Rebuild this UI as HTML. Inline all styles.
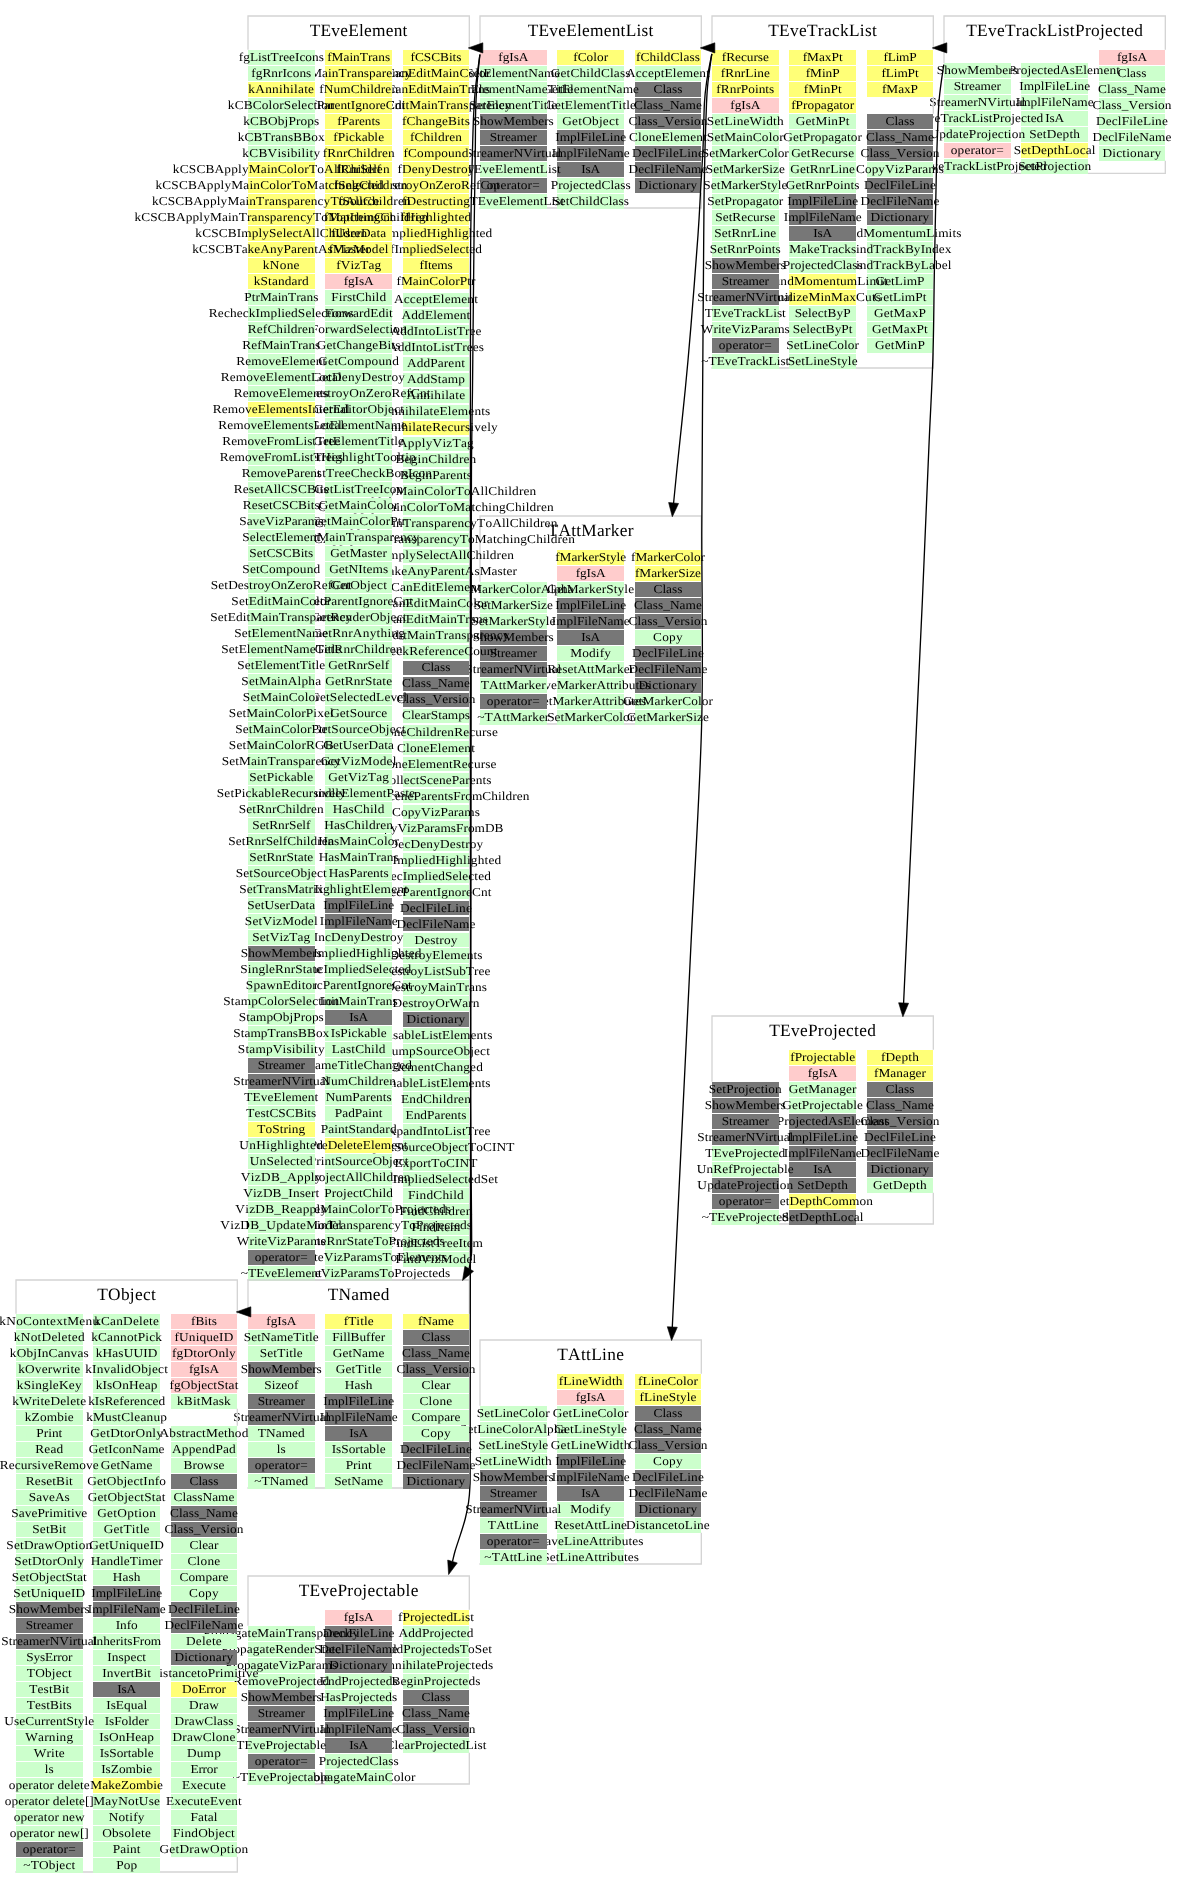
<!DOCTYPE html>
<html><head><meta charset="utf-8"><title>TEveTrackListProjected inheritance</title>
<style>
html,body{margin:0;padding:0;background:#fff}
#c{position:relative;width:1181px;height:1888px;overflow:hidden;will-change:transform;font-family:"Liberation Serif",serif;font-size:13.3333px;color:#000;font-kerning:none;font-variant-ligatures:none;text-rendering:geometricPrecision}
#c div,#c svg{position:absolute}
.b{width:66.67px;height:14.67px;line-height:14.67px;display:flex;justify-content:center;white-space:nowrap;overflow:visible}
.b span{display:block;transform-origin:50% 0;transform:translateY(1.2px) scaleY(0.91)}
.g{background:#ccffcc}.y{background:#ffff77}.p{background:#ffcccc}.k{background:#777777}
.t{width:221.33px;height:20px;line-height:20px;font-size:17.3333px;display:flex;justify-content:center;white-space:nowrap}
</style></head><body><div id="c">
<svg style="left:942px;top:14px" width="225.33" height="161.33"><path d="M2,2H223.33M2,159.33H223.33M2,2V48.53M223.33,2V35.2M223.33,147.47V159.33" fill="none" stroke="#d4d4d4" stroke-width="1.333" stroke-linecap="square"/></svg>
<div class="t" style="left:944px;top:20.8px;letter-spacing:0.301px">TEveTrackListProjected</div>
<div class="b p" style="left:1098.67px;top:50px;letter-spacing:-0.073px"><span>fgIsA</span></div>
<div class="b g" style="left:1098.67px;top:66px;letter-spacing:0.021px"><span>Class</span></div>
<div class="b g" style="left:1098.67px;top:82px;letter-spacing:0.060px"><span>Class_Name</span></div>
<div class="b g" style="left:1098.67px;top:98px;letter-spacing:0.094px"><span>Class_Version</span></div>
<div class="b g" style="left:1098.67px;top:114px;letter-spacing:0.138px"><span>DeclFileLine</span></div>
<div class="b g" style="left:1098.67px;top:130px;letter-spacing:0.104px"><span>DeclFileName</span></div>
<div class="b g" style="left:1098.67px;top:146px;letter-spacing:0.198px"><span>Dictionary</span></div>
<div class="b g" style="left:1021.33px;top:63.33px;letter-spacing:0.103px"><span>GetProjectedAsElement</span></div>
<div class="b g" style="left:1021.33px;top:79.33px;letter-spacing:0.054px"><span>ImplFileLine</span></div>
<div class="b g" style="left:1021.33px;top:95.33px;letter-spacing:0.020px"><span>ImplFileName</span></div>
<div class="b g" style="left:1021.33px;top:111.33px;letter-spacing:-0.086px"><span>IsA</span></div>
<div class="b g" style="left:1021.33px;top:127.33px;letter-spacing:0.172px"><span>SetDepth</span></div>
<div class="b y" style="left:1021.33px;top:143.33px;letter-spacing:0.156px"><span>SetDepthLocal</span></div>
<div class="b g" style="left:1021.33px;top:159.33px;letter-spacing:0.089px"><span>SetProjection</span></div>
<div class="b g" style="left:944px;top:63.33px;letter-spacing:0.024px"><span>ShowMembers</span></div>
<div class="b g" style="left:944px;top:79.33px;letter-spacing:-0.141px"><span>Streamer</span></div>
<div class="b g" style="left:944px;top:95.33px;letter-spacing:0.030px"><span>StreamerNVirtual</span></div>
<div class="b g" style="left:944px;top:111.33px;letter-spacing:0.043px"><span>TEveTrackListProjected</span></div>
<div class="b g" style="left:944px;top:127.33px;letter-spacing:0.168px"><span>UpdateProjection</span></div>
<div class="b p" style="left:944px;top:143.33px;letter-spacing:0.118px"><span>operator=</span></div>
<div class="b g" style="left:944px;top:159.33px;letter-spacing:0.032px"><span>~TEveTrackListProjected</span></div>
<svg style="left:710px;top:14px" width="225.33" height="356"><path d="M2,2H223.33M2,354H223.33M2,2V35.2M223.33,2V35.2M223.33,83.47V99.2M223.33,339.47V354" fill="none" stroke="#d4d4d4" stroke-width="1.333" stroke-linecap="square"/></svg>
<div class="t" style="left:712px;top:20.8px;letter-spacing:0.314px">TEveTrackList</div>
<div class="b y" style="left:866.67px;top:50px;letter-spacing:-0.215px"><span>fLimP</span></div>
<div class="b y" style="left:866.67px;top:66px;letter-spacing:-0.130px"><span>fLimPt</span></div>
<div class="b y" style="left:866.67px;top:82px;letter-spacing:-0.059px"><span>fMaxP</span></div>
<div class="b k" style="left:866.67px;top:114px;letter-spacing:0.021px"><span>Class</span></div>
<div class="b k" style="left:866.67px;top:130px;letter-spacing:0.060px"><span>Class_Name</span></div>
<div class="b k" style="left:866.67px;top:146px;letter-spacing:0.094px"><span>Class_Version</span></div>
<div class="b g" style="left:866.67px;top:162px;letter-spacing:0.046px"><span>CopyVizParams</span></div>
<div class="b k" style="left:866.67px;top:178px;letter-spacing:0.138px"><span>DeclFileLine</span></div>
<div class="b k" style="left:866.67px;top:194px;letter-spacing:0.104px"><span>DeclFileName</span></div>
<div class="b k" style="left:866.67px;top:210px;letter-spacing:0.198px"><span>Dictionary</span></div>
<div class="b g" style="left:866.67px;top:226px;letter-spacing:0.084px"><span>FindMomentumLimits</span></div>
<div class="b g" style="left:866.67px;top:242px;letter-spacing:0.096px"><span>FindTrackByIndex</span></div>
<div class="b g" style="left:866.67px;top:258px;letter-spacing:0.097px"><span>FindTrackByLabel</span></div>
<div class="b g" style="left:866.67px;top:274px;letter-spacing:0.016px"><span>GetLimP</span></div>
<div class="b g" style="left:866.67px;top:290px;letter-spacing:0.051px"><span>GetLimPt</span></div>
<div class="b g" style="left:866.67px;top:306px;letter-spacing:0.128px"><span>GetMaxP</span></div>
<div class="b g" style="left:866.67px;top:322px;letter-spacing:0.149px"><span>GetMaxPt</span></div>
<div class="b g" style="left:866.67px;top:338px;letter-spacing:0.158px"><span>GetMinP</span></div>
<div class="b y" style="left:789.33px;top:50px;letter-spacing:0.000px"><span>fMaxPt</span></div>
<div class="b y" style="left:789.33px;top:66px;letter-spacing:-0.016px"><span>fMinP</span></div>
<div class="b y" style="left:789.33px;top:82px;letter-spacing:0.036px"><span>fMinPt</span></div>
<div class="b y" style="left:789.33px;top:98px;letter-spacing:0.005px"><span>fPropagator</span></div>
<div class="b g" style="left:789.33px;top:114px;letter-spacing:0.175px"><span>GetMinPt</span></div>
<div class="b g" style="left:789.33px;top:130px;letter-spacing:0.096px"><span>GetPropagator</span></div>
<div class="b g" style="left:789.33px;top:146px;letter-spacing:0.081px"><span>GetRecurse</span></div>
<div class="b g" style="left:789.33px;top:162px;letter-spacing:0.132px"><span>GetRnrLine</span></div>
<div class="b g" style="left:789.33px;top:178px;letter-spacing:0.117px"><span>GetRnrPoints</span></div>
<div class="b k" style="left:789.33px;top:194px;letter-spacing:0.054px"><span>ImplFileLine</span></div>
<div class="b k" style="left:789.33px;top:210px;letter-spacing:0.020px"><span>ImplFileName</span></div>
<div class="b k" style="left:789.33px;top:226px;letter-spacing:-0.086px"><span>IsA</span></div>
<div class="b g" style="left:789.33px;top:242px;letter-spacing:0.037px"><span>MakeTracks</span></div>
<div class="b g" style="left:789.33px;top:258px;letter-spacing:0.054px"><span>ProjectedClass</span></div>
<div class="b y" style="left:789.33px;top:274px;letter-spacing:0.144px"><span>RoundMomentumLimit</span></div>
<div class="b y" style="left:789.33px;top:290px;letter-spacing:0.163px"><span>SanitizeMinMaxCuts</span></div>
<div class="b g" style="left:789.33px;top:306px;letter-spacing:0.050px"><span>SelectByP</span></div>
<div class="b g" style="left:789.33px;top:322px;letter-spacing:0.074px"><span>SelectByPt</span></div>
<div class="b g" style="left:789.33px;top:338px;letter-spacing:0.096px"><span>SetLineColor</span></div>
<div class="b g" style="left:789.33px;top:354px;letter-spacing:0.093px"><span>SetLineStyle</span></div>
<div class="b y" style="left:712px;top:50px;letter-spacing:-0.048px"><span>fRecurse</span></div>
<div class="b y" style="left:712px;top:66px;letter-spacing:0.016px"><span>fRnrLine</span></div>
<div class="b y" style="left:712px;top:82px;letter-spacing:0.021px"><span>fRnrPoints</span></div>
<div class="b p" style="left:712px;top:98px;letter-spacing:-0.073px"><span>fgIsA</span></div>
<div class="b g" style="left:712px;top:114px;letter-spacing:0.184px"><span>SetLineWidth</span></div>
<div class="b g" style="left:712px;top:130px;letter-spacing:0.121px"><span>SetMainColor</span></div>
<div class="b g" style="left:712px;top:146px;letter-spacing:0.025px"><span>SetMarkerColor</span></div>
<div class="b g" style="left:712px;top:162px;letter-spacing:-0.018px"><span>SetMarkerSize</span></div>
<div class="b g" style="left:712px;top:178px;letter-spacing:0.023px"><span>SetMarkerStyle</span></div>
<div class="b g" style="left:712px;top:194px;letter-spacing:0.035px"><span>SetPropagator</span></div>
<div class="b g" style="left:712px;top:210px;letter-spacing:0.002px"><span>SetRecurse</span></div>
<div class="b g" style="left:712px;top:226px;letter-spacing:0.053px"><span>SetRnrLine</span></div>
<div class="b g" style="left:712px;top:242px;letter-spacing:0.051px"><span>SetRnrPoints</span></div>
<div class="b k" style="left:712px;top:258px;letter-spacing:0.024px"><span>ShowMembers</span></div>
<div class="b k" style="left:712px;top:274px;letter-spacing:-0.141px"><span>Streamer</span></div>
<div class="b k" style="left:712px;top:290px;letter-spacing:0.030px"><span>StreamerNVirtual</span></div>
<div class="b g" style="left:712px;top:306px;letter-spacing:0.023px"><span>TEveTrackList</span></div>
<div class="b g" style="left:712px;top:322px;letter-spacing:0.010px"><span>WriteVizParams</span></div>
<div class="b k" style="left:712px;top:338px;letter-spacing:0.118px"><span>operator=</span></div>
<div class="b g" style="left:712px;top:354px;letter-spacing:0.006px"><span>~TEveTrackList</span></div>
<svg style="left:710px;top:1014px" width="225.33" height="212"><path d="M2,2H223.33M2,210H223.33M2,2V67.2M223.33,2V35.2M223.33,179.47V210" fill="none" stroke="#d4d4d4" stroke-width="1.333" stroke-linecap="square"/></svg>
<div class="t" style="left:712px;top:1020.8px;letter-spacing:0.308px">TEveProjected</div>
<div class="b y" style="left:866.67px;top:1050px;letter-spacing:0.163px"><span>fDepth</span></div>
<div class="b y" style="left:866.67px;top:1066px;letter-spacing:0.022px"><span>fManager</span></div>
<div class="b k" style="left:866.67px;top:1082px;letter-spacing:0.021px"><span>Class</span></div>
<div class="b k" style="left:866.67px;top:1098px;letter-spacing:0.060px"><span>Class_Name</span></div>
<div class="b k" style="left:866.67px;top:1114px;letter-spacing:0.094px"><span>Class_Version</span></div>
<div class="b k" style="left:866.67px;top:1130px;letter-spacing:0.138px"><span>DeclFileLine</span></div>
<div class="b k" style="left:866.67px;top:1146px;letter-spacing:0.104px"><span>DeclFileName</span></div>
<div class="b k" style="left:866.67px;top:1162px;letter-spacing:0.198px"><span>Dictionary</span></div>
<div class="b g" style="left:866.67px;top:1178px;letter-spacing:0.271px"><span>GetDepth</span></div>
<div class="b y" style="left:789.33px;top:1050px;letter-spacing:0.049px"><span>fProjectable</span></div>
<div class="b p" style="left:789.33px;top:1066px;letter-spacing:-0.073px"><span>fgIsA</span></div>
<div class="b g" style="left:789.33px;top:1082px;letter-spacing:0.137px"><span>GetManager</span></div>
<div class="b g" style="left:789.33px;top:1098px;letter-spacing:0.127px"><span>GetProjectable</span></div>
<div class="b k" style="left:789.33px;top:1114px;letter-spacing:0.103px"><span>GetProjectedAsElement</span></div>
<div class="b k" style="left:789.33px;top:1130px;letter-spacing:0.054px"><span>ImplFileLine</span></div>
<div class="b k" style="left:789.33px;top:1146px;letter-spacing:0.020px"><span>ImplFileName</span></div>
<div class="b k" style="left:789.33px;top:1162px;letter-spacing:-0.086px"><span>IsA</span></div>
<div class="b k" style="left:789.33px;top:1178px;letter-spacing:0.172px"><span>SetDepth</span></div>
<div class="b y" style="left:789.33px;top:1194px;letter-spacing:0.124px"><span>SetDepthCommon</span></div>
<div class="b k" style="left:789.33px;top:1210px;letter-spacing:0.156px"><span>SetDepthLocal</span></div>
<div class="b k" style="left:712px;top:1082px;letter-spacing:0.089px"><span>SetProjection</span></div>
<div class="b k" style="left:712px;top:1098px;letter-spacing:0.024px"><span>ShowMembers</span></div>
<div class="b k" style="left:712px;top:1114px;letter-spacing:-0.141px"><span>Streamer</span></div>
<div class="b k" style="left:712px;top:1130px;letter-spacing:0.030px"><span>StreamerNVirtual</span></div>
<div class="b g" style="left:712px;top:1146px;letter-spacing:0.060px"><span>TEveProjected</span></div>
<div class="b g" style="left:712px;top:1162px;letter-spacing:0.092px"><span>UnRefProjectable</span></div>
<div class="b k" style="left:712px;top:1178px;letter-spacing:0.168px"><span>UpdateProjection</span></div>
<div class="b k" style="left:712px;top:1194px;letter-spacing:0.118px"><span>operator=</span></div>
<div class="b g" style="left:712px;top:1210px;letter-spacing:0.040px"><span>~TEveProjected</span></div>
<svg style="left:478px;top:14px" width="225.33" height="196"><path d="M2,2H223.33M2,194H223.33M2,2V35.2M223.33,2V35.2M223.33,179.47V194" fill="none" stroke="#d4d4d4" stroke-width="1.333" stroke-linecap="square"/></svg>
<div class="t" style="left:480px;top:20.8px;letter-spacing:0.250px">TEveElementList</div>
<div class="b y" style="left:634.67px;top:50px;letter-spacing:0.094px"><span>fChildClass</span></div>
<div class="b g" style="left:634.67px;top:66px;letter-spacing:0.140px"><span>AcceptElement</span></div>
<div class="b k" style="left:634.67px;top:82px;letter-spacing:0.021px"><span>Class</span></div>
<div class="b k" style="left:634.67px;top:98px;letter-spacing:0.060px"><span>Class_Name</span></div>
<div class="b k" style="left:634.67px;top:114px;letter-spacing:0.094px"><span>Class_Version</span></div>
<div class="b g" style="left:634.67px;top:130px;letter-spacing:0.144px"><span>CloneElement</span></div>
<div class="b k" style="left:634.67px;top:146px;letter-spacing:0.138px"><span>DeclFileLine</span></div>
<div class="b k" style="left:634.67px;top:162px;letter-spacing:0.104px"><span>DeclFileName</span></div>
<div class="b k" style="left:634.67px;top:178px;letter-spacing:0.198px"><span>Dictionary</span></div>
<div class="b y" style="left:557.33px;top:50px;letter-spacing:0.031px"><span>fColor</span></div>
<div class="b g" style="left:557.33px;top:66px;letter-spacing:0.171px"><span>GetChildClass</span></div>
<div class="b g" style="left:557.33px;top:82px;letter-spacing:0.106px"><span>GetElementName</span></div>
<div class="b g" style="left:557.33px;top:98px;letter-spacing:0.143px"><span>GetElementTitle</span></div>
<div class="b g" style="left:557.33px;top:114px;letter-spacing:0.245px"><span>GetObject</span></div>
<div class="b k" style="left:557.33px;top:130px;letter-spacing:0.054px"><span>ImplFileLine</span></div>
<div class="b k" style="left:557.33px;top:146px;letter-spacing:0.020px"><span>ImplFileName</span></div>
<div class="b k" style="left:557.33px;top:162px;letter-spacing:-0.086px"><span>IsA</span></div>
<div class="b g" style="left:557.33px;top:178px;letter-spacing:0.054px"><span>ProjectedClass</span></div>
<div class="b g" style="left:557.33px;top:194px;letter-spacing:0.110px"><span>SetChildClass</span></div>
<div class="b p" style="left:480px;top:50px;letter-spacing:-0.073px"><span>fgIsA</span></div>
<div class="b g" style="left:480px;top:66px;letter-spacing:0.050px"><span>SetElementName</span></div>
<div class="b g" style="left:480px;top:82px;letter-spacing:0.080px"><span>SetElementNameTitle</span></div>
<div class="b g" style="left:480px;top:98px;letter-spacing:0.091px"><span>SetElementTitle</span></div>
<div class="b k" style="left:480px;top:114px;letter-spacing:0.024px"><span>ShowMembers</span></div>
<div class="b k" style="left:480px;top:130px;letter-spacing:-0.141px"><span>Streamer</span></div>
<div class="b k" style="left:480px;top:146px;letter-spacing:0.030px"><span>StreamerNVirtual</span></div>
<div class="b g" style="left:480px;top:162px;letter-spacing:0.064px"><span>TEveElementList</span></div>
<div class="b k" style="left:480px;top:178px;letter-spacing:0.118px"><span>operator=</span></div>
<div class="b g" style="left:480px;top:194px;letter-spacing:0.046px"><span>~TEveElementList</span></div>
<svg style="left:478px;top:514px" width="225.33" height="212"><path d="M2,2H223.33M2,210H223.33M2,2V67.2M223.33,2V35.2" fill="none" stroke="#d4d4d4" stroke-width="1.333" stroke-linecap="square"/></svg>
<div class="t" style="left:480px;top:520.8px;letter-spacing:0.225px">TAttMarker</div>
<div class="b y" style="left:634.67px;top:550px;letter-spacing:-0.004px"><span>fMarkerColor</span></div>
<div class="b y" style="left:634.67px;top:566px;letter-spacing:-0.058px"><span>fMarkerSize</span></div>
<div class="b k" style="left:634.67px;top:582px;letter-spacing:0.021px"><span>Class</span></div>
<div class="b k" style="left:634.67px;top:598px;letter-spacing:0.060px"><span>Class_Name</span></div>
<div class="b k" style="left:634.67px;top:614px;letter-spacing:0.094px"><span>Class_Version</span></div>
<div class="b g" style="left:634.67px;top:630px;letter-spacing:0.277px"><span>Copy</span></div>
<div class="b k" style="left:634.67px;top:646px;letter-spacing:0.138px"><span>DeclFileLine</span></div>
<div class="b k" style="left:634.67px;top:662px;letter-spacing:0.104px"><span>DeclFileName</span></div>
<div class="b k" style="left:634.67px;top:678px;letter-spacing:0.198px"><span>Dictionary</span></div>
<div class="b g" style="left:634.67px;top:694px;letter-spacing:0.081px"><span>GetMarkerColor</span></div>
<div class="b g" style="left:634.67px;top:710px;letter-spacing:0.043px"><span>GetMarkerSize</span></div>
<div class="b y" style="left:557.33px;top:550px;letter-spacing:-0.007px"><span>fMarkerStyle</span></div>
<div class="b p" style="left:557.33px;top:566px;letter-spacing:-0.073px"><span>fgIsA</span></div>
<div class="b g" style="left:557.33px;top:582px;letter-spacing:0.079px"><span>GetMarkerStyle</span></div>
<div class="b k" style="left:557.33px;top:598px;letter-spacing:0.054px"><span>ImplFileLine</span></div>
<div class="b k" style="left:557.33px;top:614px;letter-spacing:0.020px"><span>ImplFileName</span></div>
<div class="b k" style="left:557.33px;top:630px;letter-spacing:-0.086px"><span>IsA</span></div>
<div class="b g" style="left:557.33px;top:646px;letter-spacing:0.167px"><span>Modify</span></div>
<div class="b g" style="left:557.33px;top:662px;letter-spacing:0.079px"><span>ResetAttMarker</span></div>
<div class="b g" style="left:557.33px;top:678px;letter-spacing:0.076px"><span>SaveMarkerAttributes</span></div>
<div class="b g" style="left:557.33px;top:694px;letter-spacing:0.074px"><span>SetMarkerAttributes</span></div>
<div class="b g" style="left:557.33px;top:710px;letter-spacing:0.025px"><span>SetMarkerColor</span></div>
<div class="b g" style="left:480px;top:582px;letter-spacing:0.093px"><span>SetMarkerColorAlpha</span></div>
<div class="b g" style="left:480px;top:598px;letter-spacing:-0.018px"><span>SetMarkerSize</span></div>
<div class="b g" style="left:480px;top:614px;letter-spacing:0.023px"><span>SetMarkerStyle</span></div>
<div class="b k" style="left:480px;top:630px;letter-spacing:0.024px"><span>ShowMembers</span></div>
<div class="b k" style="left:480px;top:646px;letter-spacing:-0.141px"><span>Streamer</span></div>
<div class="b k" style="left:480px;top:662px;letter-spacing:0.030px"><span>StreamerNVirtual</span></div>
<div class="b g" style="left:480px;top:678px;letter-spacing:0.058px"><span>TAttMarker</span></div>
<div class="b k" style="left:480px;top:694px;letter-spacing:0.118px"><span>operator=</span></div>
<div class="b g" style="left:480px;top:710px;letter-spacing:0.033px"><span>~TAttMarker</span></div>
<svg style="left:478px;top:1338px" width="225.33" height="228"><path d="M2,2H223.33M2,226H223.33M2,2V67.2M223.33,2V35.2M223.33,195.47V226" fill="none" stroke="#d4d4d4" stroke-width="1.333" stroke-linecap="square"/></svg>
<div class="t" style="left:480px;top:1344.8px;letter-spacing:0.312px">TAttLine</div>
<div class="b y" style="left:634.67px;top:1374px;letter-spacing:0.076px"><span>fLineColor</span></div>
<div class="b y" style="left:634.67px;top:1390px;letter-spacing:0.072px"><span>fLineStyle</span></div>
<div class="b k" style="left:634.67px;top:1406px;letter-spacing:0.021px"><span>Class</span></div>
<div class="b k" style="left:634.67px;top:1422px;letter-spacing:0.060px"><span>Class_Name</span></div>
<div class="b k" style="left:634.67px;top:1438px;letter-spacing:0.094px"><span>Class_Version</span></div>
<div class="b g" style="left:634.67px;top:1454px;letter-spacing:0.277px"><span>Copy</span></div>
<div class="b k" style="left:634.67px;top:1470px;letter-spacing:0.138px"><span>DeclFileLine</span></div>
<div class="b k" style="left:634.67px;top:1486px;letter-spacing:0.104px"><span>DeclFileName</span></div>
<div class="b k" style="left:634.67px;top:1502px;letter-spacing:0.198px"><span>Dictionary</span></div>
<div class="b g" style="left:634.67px;top:1518px;letter-spacing:0.182px"><span>DistancetoLine</span></div>
<div class="b y" style="left:557.33px;top:1374px;letter-spacing:0.180px"><span>fLineWidth</span></div>
<div class="b p" style="left:557.33px;top:1390px;letter-spacing:-0.073px"><span>fgIsA</span></div>
<div class="b g" style="left:557.33px;top:1406px;letter-spacing:0.162px"><span>GetLineColor</span></div>
<div class="b g" style="left:557.33px;top:1422px;letter-spacing:0.159px"><span>GetLineStyle</span></div>
<div class="b g" style="left:557.33px;top:1438px;letter-spacing:0.249px"><span>GetLineWidth</span></div>
<div class="b k" style="left:557.33px;top:1454px;letter-spacing:0.054px"><span>ImplFileLine</span></div>
<div class="b k" style="left:557.33px;top:1470px;letter-spacing:0.020px"><span>ImplFileName</span></div>
<div class="b k" style="left:557.33px;top:1486px;letter-spacing:-0.086px"><span>IsA</span></div>
<div class="b g" style="left:557.33px;top:1502px;letter-spacing:0.167px"><span>Modify</span></div>
<div class="b g" style="left:557.33px;top:1518px;letter-spacing:0.159px"><span>ResetAttLine</span></div>
<div class="b g" style="left:557.33px;top:1534px;letter-spacing:0.129px"><span>SaveLineAttributes</span></div>
<div class="b g" style="left:557.33px;top:1550px;letter-spacing:0.130px"><span>SetLineAttributes</span></div>
<div class="b g" style="left:480px;top:1406px;letter-spacing:0.096px"><span>SetLineColor</span></div>
<div class="b g" style="left:480px;top:1422px;letter-spacing:0.151px"><span>SetLineColorAlpha</span></div>
<div class="b g" style="left:480px;top:1438px;letter-spacing:0.093px"><span>SetLineStyle</span></div>
<div class="b g" style="left:480px;top:1454px;letter-spacing:0.184px"><span>SetLineWidth</span></div>
<div class="b k" style="left:480px;top:1470px;letter-spacing:0.024px"><span>ShowMembers</span></div>
<div class="b k" style="left:480px;top:1486px;letter-spacing:-0.141px"><span>Streamer</span></div>
<div class="b k" style="left:480px;top:1502px;letter-spacing:0.030px"><span>StreamerNVirtual</span></div>
<div class="b g" style="left:480px;top:1518px;letter-spacing:0.173px"><span>TAttLine</span></div>
<div class="b k" style="left:480px;top:1534px;letter-spacing:0.118px"><span>operator=</span></div>
<div class="b g" style="left:480px;top:1550px;letter-spacing:0.130px"><span>~TAttLine</span></div>
<svg style="left:246px;top:14px" width="225.33" height="1268"><path d="M2,2H223.33M2,1266H223.33M2,2V35.2M223.33,2V35.2M223.33,1251.47V1266" fill="none" stroke="#d4d4d4" stroke-width="1.333" stroke-linecap="square"/></svg>
<div class="t" style="left:248px;top:20.8px;letter-spacing:0.246px">TEveElement</div>
<div class="b y" style="left:402.67px;top:50px;letter-spacing:-0.017px"><span>fCSCBits</span></div>
<div class="b y" style="left:402.67px;top:66px;letter-spacing:0.138px"><span>fCanEditMainColor</span></div>
<div class="b y" style="left:402.67px;top:82px;letter-spacing:0.080px"><span>fCanEditMainTrans</span></div>
<div class="b y" style="left:402.67px;top:98px;letter-spacing:0.090px"><span>fCanEditMainTransparency</span></div>
<div class="b y" style="left:402.67px;top:114px;letter-spacing:0.122px"><span>fChangeBits</span></div>
<div class="b y" style="left:402.67px;top:130px;letter-spacing:0.100px"><span>fChildren</span></div>
<div class="b y" style="left:402.67px;top:146px;letter-spacing:0.144px"><span>fCompound</span></div>
<div class="b y" style="left:402.67px;top:162px;letter-spacing:0.122px"><span>fDenyDestroy</span></div>
<div class="b y" style="left:402.67px;top:178px;letter-spacing:0.068px"><span>fDestroyOnZeroRefCnt</span></div>
<div class="b y" style="left:402.67px;top:194px;letter-spacing:0.113px"><span>fDestructing</span></div>
<div class="b y" style="left:402.67px;top:210px;letter-spacing:0.239px"><span>fHighlighted</span></div>
<div class="b y" style="left:402.67px;top:226px;letter-spacing:0.178px"><span>fImpliedHighlighted</span></div>
<div class="b y" style="left:402.67px;top:242px;letter-spacing:0.058px"><span>fImpliedSelected</span></div>
<div class="b y" style="left:402.67px;top:258px;letter-spacing:-0.177px"><span>fItems</span></div>
<div class="b y" style="left:402.67px;top:274px;letter-spacing:0.037px"><span>fMainColorPtr</span></div>
<div class="b g" style="left:402.67px;top:293.1px;letter-spacing:0.140px;height:13.67px"><span style="transform:translateY(0.1px) scaleY(0.91)">AcceptElement</span></div>
<div class="b g" style="left:402.67px;top:309.08px;letter-spacing:0.161px;height:13.68px"><span style="transform:translateY(0.11px) scaleY(0.91)">AddElement</span></div>
<div class="b g" style="left:402.67px;top:325.07px;letter-spacing:0.093px;height:13.7px"><span style="transform:translateY(0.13px) scaleY(0.91)">AddIntoListTree</span></div>
<div class="b g" style="left:402.67px;top:341.06px;letter-spacing:0.076px;height:13.71px"><span style="transform:translateY(0.14px) scaleY(0.91)">AddIntoListTrees</span></div>
<div class="b g" style="left:402.67px;top:357.04px;letter-spacing:0.108px;height:13.73px"><span style="transform:translateY(0.16px) scaleY(0.91)">AddParent</span></div>
<div class="b g" style="left:402.67px;top:373.02px;letter-spacing:0.120px;height:13.74px"><span style="transform:translateY(0.18px) scaleY(0.91)">AddStamp</span></div>
<div class="b g" style="left:402.67px;top:389.01px;letter-spacing:0.272px;height:13.76px"><span style="transform:translateY(0.19px) scaleY(0.91)">Annihilate</span></div>
<div class="b g" style="left:402.67px;top:405px;letter-spacing:0.172px;height:13.77px"><span style="transform:translateY(0.2px) scaleY(0.91)">AnnihilateElements</span></div>
<div class="b y" style="left:402.67px;top:420.98px;letter-spacing:0.192px;height:13.79px"><span style="transform:translateY(0.22px) scaleY(0.91)">AnnihilateRecursively</span></div>
<div class="b g" style="left:402.67px;top:436.96px;letter-spacing:0.244px;height:13.8px"><span style="transform:translateY(0.23px) scaleY(0.91)">ApplyVizTag</span></div>
<div class="b g" style="left:402.67px;top:452.95px;letter-spacing:0.192px;height:13.82px"><span style="transform:translateY(0.25px) scaleY(0.91)">BeginChildren</span></div>
<div class="b g" style="left:402.67px;top:468.94px;letter-spacing:0.075px;height:13.83px"><span style="transform:translateY(0.26px) scaleY(0.91)">BeginParents</span></div>
<div class="b g" style="left:402.67px;top:484.92px;letter-spacing:0.181px;height:13.85px"><span style="transform:translateY(0.28px) scaleY(0.91)">CSCApplyMainColorToAllChildren</span></div>
<div class="b g" style="left:402.67px;top:500.9px;letter-spacing:0.182px;height:13.86px"><span style="transform:translateY(0.29px) scaleY(0.91)">CSCApplyMainColorToMatchingChildren</span></div>
<div class="b g" style="left:402.67px;top:516.89px;letter-spacing:0.142px;height:13.88px"><span style="transform:translateY(0.31px) scaleY(0.91)">CSCApplyMainTransparencyToAllChildren</span></div>
<div class="b g" style="left:402.67px;top:532.88px;letter-spacing:0.148px;height:13.89px"><span style="transform:translateY(0.32px) scaleY(0.91)">CSCApplyMainTransparencyToMatchingChildren</span></div>
<div class="b g" style="left:402.67px;top:548.86px;letter-spacing:0.107px;height:13.91px"><span style="transform:translateY(0.34px) scaleY(0.91)">CSCImplySelectAllChildren</span></div>
<div class="b g" style="left:402.67px;top:564.85px;letter-spacing:0.054px;height:13.92px"><span style="transform:translateY(0.35px) scaleY(0.91)">CSCTakeAnyParentAsMaster</span></div>
<div class="b g" style="left:402.67px;top:580.83px;letter-spacing:0.134px;height:13.94px"><span style="transform:translateY(0.37px) scaleY(0.91)">CanEditElement</span></div>
<div class="b g" style="left:402.67px;top:596.82px;letter-spacing:0.174px;height:13.95px"><span style="transform:translateY(0.39px) scaleY(0.91)">CanEditMainColor</span></div>
<div class="b g" style="left:402.67px;top:612.8px;letter-spacing:0.112px;height:13.97px"><span style="transform:translateY(0.4px) scaleY(0.91)">CanEditMainTrans</span></div>
<div class="b g" style="left:402.67px;top:628.79px;letter-spacing:0.113px;height:13.98px"><span style="transform:translateY(0.41px) scaleY(0.91)">CanEditMainTransparency</span></div>
<div class="b g" style="left:402.67px;top:644.77px;letter-spacing:0.122px;height:14px"><span style="transform:translateY(0.43px) scaleY(0.91)">CheckReferenceCount</span></div>
<div class="b k" style="left:402.67px;top:660.75px;letter-spacing:0.021px;height:14.01px"><span style="transform:translateY(0.45px) scaleY(0.91)">Class</span></div>
<div class="b k" style="left:402.67px;top:676.74px;letter-spacing:0.060px;height:14.03px"><span style="transform:translateY(0.46px) scaleY(0.91)">Class_Name</span></div>
<div class="b k" style="left:402.67px;top:692.73px;letter-spacing:0.094px;height:14.04px"><span style="transform:translateY(0.47px) scaleY(0.91)">Class_Version</span></div>
<div class="b g" style="left:402.67px;top:708.71px;letter-spacing:-0.013px;height:14.06px"><span style="transform:translateY(0.49px) scaleY(0.91)">ClearStamps</span></div>
<div class="b g" style="left:402.67px;top:724.69px;letter-spacing:0.127px;height:14.07px"><span style="transform:translateY(0.5px) scaleY(0.91)">CloneChildrenRecurse</span></div>
<div class="b g" style="left:402.67px;top:740.68px;letter-spacing:0.144px;height:14.09px"><span style="transform:translateY(0.52px) scaleY(0.91)">CloneElement</span></div>
<div class="b g" style="left:402.67px;top:756.66px;letter-spacing:0.094px;height:14.1px"><span style="transform:translateY(0.53px) scaleY(0.91)">CloneElementRecurse</span></div>
<div class="b g" style="left:402.67px;top:772.65px;letter-spacing:0.074px;height:14.12px"><span style="transform:translateY(0.55px) scaleY(0.91)">CollectSceneParents</span></div>
<div class="b g" style="left:402.67px;top:788.63px;letter-spacing:0.060px;height:14.13px"><span style="transform:translateY(0.56px) scaleY(0.91)">CollectSceneParentsFromChildren</span></div>
<div class="b g" style="left:402.67px;top:804.62px;letter-spacing:0.046px;height:14.15px"><span style="transform:translateY(0.58px) scaleY(0.91)">CopyVizParams</span></div>
<div class="b g" style="left:402.67px;top:820.61px;letter-spacing:0.010px;height:14.16px"><span style="transform:translateY(0.59px) scaleY(0.91)">CopyVizParamsFromDB</span></div>
<div class="b g" style="left:402.67px;top:836.59px;letter-spacing:0.174px;height:14.18px"><span style="transform:translateY(0.61px) scaleY(0.91)">DecDenyDestroy</span></div>
<div class="b g" style="left:402.67px;top:852.58px;letter-spacing:0.208px;height:14.19px"><span style="transform:translateY(0.62px) scaleY(0.91)">DecImpliedHighlighted</span></div>
<div class="b g" style="left:402.67px;top:868.56px;letter-spacing:0.106px;height:14.21px"><span style="transform:translateY(0.64px) scaleY(0.91)">DecImpliedSelected</span></div>
<div class="b g" style="left:402.67px;top:884.55px;letter-spacing:0.078px;height:14.22px"><span style="transform:translateY(0.66px) scaleY(0.91)">DecParentIgnoreCnt</span></div>
<div class="b k" style="left:402.67px;top:900.53px;letter-spacing:0.138px;height:14.24px"><span style="transform:translateY(0.67px) scaleY(0.91)">DeclFileLine</span></div>
<div class="b k" style="left:402.67px;top:916.51px;letter-spacing:0.104px;height:14.25px"><span style="transform:translateY(0.68px) scaleY(0.91)">DeclFileName</span></div>
<div class="b g" style="left:402.67px;top:932.5px;letter-spacing:0.112px;height:14.27px"><span style="transform:translateY(0.7px) scaleY(0.91)">Destroy</span></div>
<div class="b g" style="left:402.67px;top:948.49px;letter-spacing:0.078px;height:14.28px"><span style="transform:translateY(0.71px) scaleY(0.91)">DestroyElements</span></div>
<div class="b g" style="left:402.67px;top:964.47px;letter-spacing:0.049px;height:14.3px"><span style="transform:translateY(0.73px) scaleY(0.91)">DestroyListSubTree</span></div>
<div class="b g" style="left:402.67px;top:980.45px;letter-spacing:0.080px;height:14.31px"><span style="transform:translateY(0.74px) scaleY(0.91)">DestroyMainTrans</span></div>
<div class="b g" style="left:402.67px;top:996.44px;letter-spacing:0.085px;height:14.33px"><span style="transform:translateY(0.76px) scaleY(0.91)">DestroyOrWarn</span></div>
<div class="b k" style="left:402.67px;top:1012.42px;letter-spacing:0.198px;height:14.34px"><span style="transform:translateY(0.78px) scaleY(0.91)">Dictionary</span></div>
<div class="b g" style="left:402.67px;top:1028.41px;letter-spacing:0.101px;height:14.36px"><span style="transform:translateY(0.79px) scaleY(0.91)">DisableListElements</span></div>
<div class="b g" style="left:402.67px;top:1044.39px;letter-spacing:0.131px;height:14.37px"><span style="transform:translateY(0.8px) scaleY(0.91)">DumpSourceObject</span></div>
<div class="b g" style="left:402.67px;top:1060.38px;letter-spacing:0.156px;height:14.39px"><span style="transform:translateY(0.82px) scaleY(0.91)">ElementChanged</span></div>
<div class="b g" style="left:402.67px;top:1076.37px;letter-spacing:0.090px;height:14.4px"><span style="transform:translateY(0.83px) scaleY(0.91)">EnableListElements</span></div>
<div class="b g" style="left:402.67px;top:1092.35px;letter-spacing:0.169px;height:14.42px"><span style="transform:translateY(0.85px) scaleY(0.91)">EndChildren</span></div>
<div class="b g" style="left:402.67px;top:1108.34px;letter-spacing:0.027px;height:14.43px"><span style="transform:translateY(0.86px) scaleY(0.91)">EndParents</span></div>
<div class="b g" style="left:402.67px;top:1124.32px;letter-spacing:0.091px;height:14.45px"><span style="transform:translateY(0.88px) scaleY(0.91)">ExpandIntoListTree</span></div>
<div class="b g" style="left:402.67px;top:1140.31px;letter-spacing:0.093px;height:14.46px"><span style="transform:translateY(0.89px) scaleY(0.91)">ExportSourceObjectToCINT</span></div>
<div class="b g" style="left:402.67px;top:1156.29px;letter-spacing:0.066px;height:14.48px"><span style="transform:translateY(0.91px) scaleY(0.91)">ExportToCINT</span></div>
<div class="b g" style="left:402.67px;top:1172.28px;letter-spacing:0.082px;height:14.49px"><span style="transform:translateY(0.92px) scaleY(0.91)">FillImpliedSelectedSet</span></div>
<div class="b g" style="left:402.67px;top:1188.26px;letter-spacing:0.212px;height:14.51px"><span style="transform:translateY(0.94px) scaleY(0.91)">FindChild</span></div>
<div class="b g" style="left:402.67px;top:1204.24px;letter-spacing:0.157px;height:14.52px"><span style="transform:translateY(0.95px) scaleY(0.91)">FindChildren</span></div>
<div class="b g" style="left:402.67px;top:1220.23px;letter-spacing:0.014px;height:14.54px"><span style="transform:translateY(0.97px) scaleY(0.91)">FindItem</span></div>
<div class="b g" style="left:402.67px;top:1236.21px;letter-spacing:-0.003px;height:14.55px"><span style="transform:translateY(0.99px) scaleY(0.91)">FindListTreeItem</span></div>
<div class="b g" style="left:402.67px;top:1252.2px;letter-spacing:0.207px;height:14.57px"><span style="transform:translateY(1px) scaleY(0.91)">FindVizModel</span></div>
<div class="b y" style="left:325.33px;top:50px;letter-spacing:0.006px"><span>fMainTrans</span></div>
<div class="b y" style="left:325.33px;top:66px;letter-spacing:0.051px"><span>fMainTransparency</span></div>
<div class="b y" style="left:325.33px;top:82px;letter-spacing:0.103px"><span>fNumChildren</span></div>
<div class="b y" style="left:325.33px;top:98px;letter-spacing:0.027px"><span>fParentIgnoreCnt</span></div>
<div class="b y" style="left:325.33px;top:114px;letter-spacing:-0.086px"><span>fParents</span></div>
<div class="b y" style="left:325.33px;top:130px;letter-spacing:0.072px"><span>fPickable</span></div>
<div class="b y" style="left:325.33px;top:146px;letter-spacing:0.075px"><span>fRnrChildren</span></div>
<div class="b y" style="left:325.33px;top:162px;letter-spacing:-0.115px"><span>fRnrSelf</span></div>
<div class="b y" style="left:325.33px;top:178px;letter-spacing:0.044px"><span>fSelected</span></div>
<div class="b y" style="left:325.33px;top:194px;letter-spacing:-0.066px"><span>fSource</span></div>
<div class="b y" style="left:325.33px;top:210px;letter-spacing:0.035px"><span>fTopItemCnt</span></div>
<div class="b y" style="left:325.33px;top:226px;letter-spacing:0.024px"><span>fUserData</span></div>
<div class="b y" style="left:325.33px;top:242px;letter-spacing:0.166px"><span>fVizModel</span></div>
<div class="b y" style="left:325.33px;top:258px;letter-spacing:0.083px"><span>fVizTag</span></div>
<div class="b p" style="left:325.33px;top:274px;letter-spacing:-0.073px"><span>fgIsA</span></div>
<div class="b g" style="left:325.33px;top:290px;letter-spacing:0.091px"><span>FirstChild</span></div>
<div class="b g" style="left:325.33px;top:306px;letter-spacing:0.055px"><span>ForwardEdit</span></div>
<div class="b g" style="left:325.33px;top:322px;letter-spacing:0.076px"><span>ForwardSelection</span></div>
<div class="b g" style="left:325.33px;top:338px;letter-spacing:0.195px"><span>GetChangeBits</span></div>
<div class="b g" style="left:325.33px;top:354px;letter-spacing:0.226px"><span>GetCompound</span></div>
<div class="b g" style="left:325.33px;top:370px;letter-spacing:0.190px"><span>GetDenyDestroy</span></div>
<div class="b g" style="left:325.33px;top:386px;letter-spacing:0.116px"><span>GetDestroyOnZeroRefCnt</span></div>
<div class="b g" style="left:325.33px;top:402px;letter-spacing:0.192px"><span>GetEditorObject</span></div>
<div class="b g" style="left:325.33px;top:418px;letter-spacing:0.106px"><span>GetElementName</span></div>
<div class="b g" style="left:325.33px;top:434px;letter-spacing:0.143px"><span>GetElementTitle</span></div>
<div class="b g" style="left:325.33px;top:450px;letter-spacing:0.283px"><span>GetHighlightTooltip</span></div>
<div class="b g" style="left:325.33px;top:466px;letter-spacing:0.113px"><span>GetListTreeCheckBoxIcon</span></div>
<div class="b g" style="left:325.33px;top:482px;letter-spacing:0.060px"><span>GetListTreeIcon</span></div>
<div class="b g" style="left:325.33px;top:498px;letter-spacing:0.186px"><span>GetMainColor</span></div>
<div class="b g" style="left:325.33px;top:514px;letter-spacing:0.112px"><span>GetMainColorPtr</span></div>
<div class="b g" style="left:325.33px;top:530px;letter-spacing:0.108px"><span>GetMainTransparency</span></div>
<div class="b g" style="left:325.33px;top:546px;letter-spacing:0.080px"><span>GetMaster</span></div>
<div class="b g" style="left:325.33px;top:562px;letter-spacing:0.055px"><span>GetNItems</span></div>
<div class="b g" style="left:325.33px;top:578px;letter-spacing:0.245px"><span>GetObject</span></div>
<div class="b g" style="left:325.33px;top:594px;letter-spacing:0.090px"><span>GetParentIgnoreCnt</span></div>
<div class="b g" style="left:325.33px;top:610px;letter-spacing:0.180px"><span>GetRenderObject</span></div>
<div class="b g" style="left:325.33px;top:626px;letter-spacing:0.241px"><span>GetRnrAnything</span></div>
<div class="b g" style="left:325.33px;top:642px;letter-spacing:0.149px"><span>GetRnrChildren</span></div>
<div class="b g" style="left:325.33px;top:658px;letter-spacing:0.027px"><span>GetRnrSelf</span></div>
<div class="b g" style="left:325.33px;top:674px;letter-spacing:0.099px"><span>GetRnrState</span></div>
<div class="b g" style="left:325.33px;top:690px;letter-spacing:0.140px"><span>GetSelectedLevel</span></div>
<div class="b g" style="left:325.33px;top:706px;letter-spacing:0.080px"><span>GetSource</span></div>
<div class="b g" style="left:325.33px;top:722px;letter-spacing:0.146px"><span>GetSourceObject</span></div>
<div class="b g" style="left:325.33px;top:738px;letter-spacing:0.128px"><span>GetUserData</span></div>
<div class="b g" style="left:325.33px;top:754px;letter-spacing:0.244px"><span>GetVizModel</span></div>
<div class="b g" style="left:325.33px;top:770px;letter-spacing:0.196px"><span>GetVizTag</span></div>
<div class="b g" style="left:325.33px;top:786px;letter-spacing:0.107px"><span>HandleElementPaste</span></div>
<div class="b g" style="left:325.33px;top:802px;letter-spacing:0.204px"><span>HasChild</span></div>
<div class="b g" style="left:325.33px;top:818px;letter-spacing:0.146px"><span>HasChildren</span></div>
<div class="b g" style="left:325.33px;top:834px;letter-spacing:0.146px"><span>HasMainColor</span></div>
<div class="b g" style="left:325.33px;top:850px;letter-spacing:0.063px"><span>HasMainTrans</span></div>
<div class="b g" style="left:325.33px;top:866px;letter-spacing:0.001px"><span>HasParents</span></div>
<div class="b g" style="left:325.33px;top:882px;letter-spacing:0.216px"><span>HighlightElement</span></div>
<div class="b k" style="left:325.33px;top:898px;letter-spacing:0.054px"><span>ImplFileLine</span></div>
<div class="b k" style="left:325.33px;top:914px;letter-spacing:0.020px"><span>ImplFileName</span></div>
<div class="b g" style="left:325.33px;top:930px;letter-spacing:0.134px"><span>IncDenyDestroy</span></div>
<div class="b g" style="left:325.33px;top:946px;letter-spacing:0.181px"><span>IncImpliedHighlighted</span></div>
<div class="b g" style="left:325.33px;top:962px;letter-spacing:0.075px"><span>IncImpliedSelected</span></div>
<div class="b g" style="left:325.33px;top:978px;letter-spacing:0.047px"><span>IncParentIgnoreCnt</span></div>
<div class="b g" style="left:325.33px;top:994px;letter-spacing:0.076px"><span>InitMainTrans</span></div>
<div class="b k" style="left:325.33px;top:1010px;letter-spacing:-0.086px"><span>IsA</span></div>
<div class="b g" style="left:325.33px;top:1026px;letter-spacing:0.046px"><span>IsPickable</span></div>
<div class="b g" style="left:325.33px;top:1042px;letter-spacing:0.157px"><span>LastChild</span></div>
<div class="b g" style="left:325.33px;top:1058px;letter-spacing:0.162px"><span>NameTitleChanged</span></div>
<div class="b g" style="left:325.33px;top:1074px;letter-spacing:0.152px"><span>NumChildren</span></div>
<div class="b g" style="left:325.33px;top:1090px;letter-spacing:0.008px"><span>NumParents</span></div>
<div class="b g" style="left:325.33px;top:1106px;letter-spacing:0.074px"><span>PadPaint</span></div>
<div class="b g" style="left:325.33px;top:1122px;letter-spacing:0.092px"><span>PaintStandard</span></div>
<div class="b y" style="left:325.33px;top:1138px;letter-spacing:0.063px"><span>PreDeleteElement</span></div>
<div class="b g" style="left:325.33px;top:1154px;letter-spacing:0.088px"><span>PrintSourceObject</span></div>
<div class="b g" style="left:325.33px;top:1170px;letter-spacing:0.141px"><span>ProjectAllChildren</span></div>
<div class="b g" style="left:325.33px;top:1186px;letter-spacing:0.133px"><span>ProjectChild</span></div>
<div class="b g" style="left:325.33px;top:1202px;letter-spacing:0.094px"><span>PropagateMainColorToProjecteds</span></div>
<div class="b g" style="left:325.33px;top:1218px;letter-spacing:0.071px"><span>PropagateMainTransparencyToProjecteds</span></div>
<div class="b g" style="left:325.33px;top:1234px;letter-spacing:0.058px"><span>PropagateRnrStateToProjecteds</span></div>
<div class="b g" style="left:325.33px;top:1250px;letter-spacing:0.027px"><span>PropagateVizParamsToElements</span></div>
<div class="b g" style="left:325.33px;top:1266px;letter-spacing:0.028px"><span>PropagateVizParamsToProjecteds</span></div>
<div class="b g" style="left:248px;top:50px;letter-spacing:-0.010px"><span>fgListTreeIcons</span></div>
<div class="b g" style="left:248px;top:66px;letter-spacing:0.001px"><span>fgRnrIcons</span></div>
<div class="b y" style="left:248px;top:82px;letter-spacing:0.277px"><span>kAnnihilate</span></div>
<div class="b g" style="left:248px;top:98px;letter-spacing:0.151px"><span>kCBColorSelection</span></div>
<div class="b g" style="left:248px;top:114px;letter-spacing:0.106px"><span>kCBObjProps</span></div>
<div class="b g" style="left:248px;top:130px;letter-spacing:0.089px"><span>kCBTransBBox</span></div>
<div class="b g" style="left:248px;top:146px;letter-spacing:0.244px"><span>kCBVisibility</span></div>
<div class="b y" style="left:248px;top:162px;letter-spacing:0.184px"><span>kCSCBApplyMainColorToAllChildren</span></div>
<div class="b y" style="left:248px;top:178px;letter-spacing:0.184px"><span>kCSCBApplyMainColorToMatchingChildren</span></div>
<div class="b y" style="left:248px;top:194px;letter-spacing:0.146px"><span>kCSCBApplyMainTransparencyToAllChildren</span></div>
<div class="b y" style="left:248px;top:210px;letter-spacing:0.151px"><span>kCSCBApplyMainTransparencyToMatchingChildren</span></div>
<div class="b y" style="left:248px;top:226px;letter-spacing:0.115px"><span>kCSCBImplySelectAllChildren</span></div>
<div class="b y" style="left:248px;top:242px;letter-spacing:0.066px"><span>kCSCBTakeAnyParentAsMaster</span></div>
<div class="b y" style="left:248px;top:258px;letter-spacing:0.291px"><span>kNone</span></div>
<div class="b y" style="left:248px;top:274px;letter-spacing:0.104px"><span>kStandard</span></div>
<div class="b g" style="left:248px;top:290px;letter-spacing:-0.005px"><span>PtrMainTrans</span></div>
<div class="b g" style="left:248px;top:306px;letter-spacing:0.118px"><span>RecheckImpliedSelections</span></div>
<div class="b g" style="left:248px;top:322px;letter-spacing:0.099px"><span>RefChildren</span></div>
<div class="b g" style="left:248px;top:338px;letter-spacing:0.021px"><span>RefMainTrans</span></div>
<div class="b g" style="left:248px;top:354px;letter-spacing:0.088px"><span>RemoveElement</span></div>
<div class="b g" style="left:248px;top:370px;letter-spacing:0.099px"><span>RemoveElementLocal</span></div>
<div class="b g" style="left:248px;top:386px;letter-spacing:0.068px"><span>RemoveElements</span></div>
<div class="b y" style="left:248px;top:402px;letter-spacing:0.068px"><span>RemoveElementsInternal</span></div>
<div class="b g" style="left:248px;top:418px;letter-spacing:0.084px"><span>RemoveElementsLocal</span></div>
<div class="b g" style="left:248px;top:434px;letter-spacing:-0.027px"><span>RemoveFromListTree</span></div>
<div class="b g" style="left:248px;top:450px;letter-spacing:-0.036px"><span>RemoveFromListTrees</span></div>
<div class="b g" style="left:248px;top:466px;letter-spacing:0.042px"><span>RemoveParent</span></div>
<div class="b g" style="left:248px;top:482px;letter-spacing:0.110px"><span>ResetAllCSCBits</span></div>
<div class="b g" style="left:248px;top:498px;letter-spacing:0.057px"><span>ResetCSCBits</span></div>
<div class="b g" style="left:248px;top:514px;letter-spacing:-0.032px"><span>SaveVizParams</span></div>
<div class="b g" style="left:248px;top:530px;letter-spacing:0.077px"><span>SelectElement</span></div>
<div class="b g" style="left:248px;top:546px;letter-spacing:0.027px"><span>SetCSCBits</span></div>
<div class="b g" style="left:248px;top:562px;letter-spacing:0.154px"><span>SetCompound</span></div>
<div class="b g" style="left:248px;top:578px;letter-spacing:0.080px"><span>SetDestroyOnZeroRefCnt</span></div>
<div class="b g" style="left:248px;top:594px;letter-spacing:0.139px"><span>SetEditMainColor</span></div>
<div class="b g" style="left:248px;top:610px;letter-spacing:0.089px"><span>SetEditMainTransparency</span></div>
<div class="b g" style="left:248px;top:626px;letter-spacing:0.050px"><span>SetElementName</span></div>
<div class="b g" style="left:248px;top:642px;letter-spacing:0.080px"><span>SetElementNameTitle</span></div>
<div class="b g" style="left:248px;top:658px;letter-spacing:0.091px"><span>SetElementTitle</span></div>
<div class="b g" style="left:248px;top:674px;letter-spacing:0.186px"><span>SetMainAlpha</span></div>
<div class="b g" style="left:248px;top:690px;letter-spacing:0.121px"><span>SetMainColor</span></div>
<div class="b g" style="left:248px;top:706px;letter-spacing:0.120px"><span>SetMainColorPixel</span></div>
<div class="b g" style="left:248px;top:722px;letter-spacing:0.059px"><span>SetMainColorPtr</span></div>
<div class="b g" style="left:248px;top:738px;letter-spacing:0.135px"><span>SetMainColorRGB</span></div>
<div class="b g" style="left:248px;top:754px;letter-spacing:0.067px"><span>SetMainTransparency</span></div>
<div class="b g" style="left:248px;top:770px;letter-spacing:0.096px"><span>SetPickable</span></div>
<div class="b g" style="left:248px;top:786px;letter-spacing:0.108px"><span>SetPickableRecursively</span></div>
<div class="b g" style="left:248px;top:802px;letter-spacing:0.093px"><span>SetRnrChildren</span></div>
<div class="b g" style="left:248px;top:818px;letter-spacing:-0.052px"><span>SetRnrSelf</span></div>
<div class="b g" style="left:248px;top:834px;letter-spacing:0.046px"><span>SetRnrSelfChildren</span></div>
<div class="b g" style="left:248px;top:850px;letter-spacing:0.027px"><span>SetRnrState</span></div>
<div class="b g" style="left:248px;top:866px;letter-spacing:0.093px"><span>SetSourceObject</span></div>
<div class="b g" style="left:248px;top:882px;letter-spacing:0.023px"><span>SetTransMatrix</span></div>
<div class="b g" style="left:248px;top:898px;letter-spacing:0.056px"><span>SetUserData</span></div>
<div class="b g" style="left:248px;top:914px;letter-spacing:0.173px"><span>SetVizModel</span></div>
<div class="b g" style="left:248px;top:930px;letter-spacing:0.109px"><span>SetVizTag</span></div>
<div class="b k" style="left:248px;top:946px;letter-spacing:0.024px"><span>ShowMembers</span></div>
<div class="b g" style="left:248px;top:962px;letter-spacing:0.090px"><span>SingleRnrState</span></div>
<div class="b g" style="left:248px;top:978px;letter-spacing:0.125px"><span>SpawnEditor</span></div>
<div class="b g" style="left:248px;top:994px;letter-spacing:0.102px"><span>StampColorSelection</span></div>
<div class="b g" style="left:248px;top:1010px;letter-spacing:0.042px"><span>StampObjProps</span></div>
<div class="b g" style="left:248px;top:1026px;letter-spacing:0.032px"><span>StampTransBBox</span></div>
<div class="b g" style="left:248px;top:1042px;letter-spacing:0.170px"><span>StampVisibility</span></div>
<div class="b k" style="left:248px;top:1058px;letter-spacing:-0.141px"><span>Streamer</span></div>
<div class="b k" style="left:248px;top:1074px;letter-spacing:0.030px"><span>StreamerNVirtual</span></div>
<div class="b g" style="left:248px;top:1090px;letter-spacing:0.064px"><span>TEveElement</span></div>
<div class="b g" style="left:248px;top:1106px;letter-spacing:0.032px"><span>TestCSCBits</span></div>
<div class="b y" style="left:248px;top:1122px;letter-spacing:0.074px"><span>ToString</span></div>
<div class="b g" style="left:248px;top:1138px;letter-spacing:0.308px"><span>UnHighlighted</span></div>
<div class="b g" style="left:248px;top:1154px;letter-spacing:0.154px"><span>UnSelected</span></div>
<div class="b g" style="left:248px;top:1170px;letter-spacing:0.293px"><span>VizDB_Apply</span></div>
<div class="b g" style="left:248px;top:1186px;letter-spacing:0.100px"><span>VizDB_Insert</span></div>
<div class="b g" style="left:248px;top:1202px;letter-spacing:0.241px"><span>VizDB_Reapply</span></div>
<div class="b g" style="left:248px;top:1218px;letter-spacing:0.250px"><span>VizDB_UpdateModel</span></div>
<div class="b g" style="left:248px;top:1234px;letter-spacing:0.010px"><span>WriteVizParams</span></div>
<div class="b k" style="left:248px;top:1250px;letter-spacing:0.118px"><span>operator=</span></div>
<div class="b g" style="left:248px;top:1266px;letter-spacing:0.040px"><span>~TEveElement</span></div>
<svg style="left:246px;top:1278px" width="225.33" height="212"><path d="M2,2H223.33M2,210H223.33M2,2V35.2M223.33,2V35.2" fill="none" stroke="#d4d4d4" stroke-width="1.333" stroke-linecap="square"/></svg>
<div class="t" style="left:248px;top:1284.8px;letter-spacing:0.226px">TNamed</div>
<div class="b y" style="left:402.67px;top:1314px;letter-spacing:-0.055px"><span>fName</span></div>
<div class="b k" style="left:402.67px;top:1330px;letter-spacing:0.021px"><span>Class</span></div>
<div class="b k" style="left:402.67px;top:1346px;letter-spacing:0.060px"><span>Class_Name</span></div>
<div class="b k" style="left:402.67px;top:1362px;letter-spacing:0.094px"><span>Class_Version</span></div>
<div class="b g" style="left:402.67px;top:1378px;letter-spacing:0.025px"><span>Clear</span></div>
<div class="b g" style="left:402.67px;top:1394px;letter-spacing:0.230px"><span>Clone</span></div>
<div class="b g" style="left:402.67px;top:1410px;letter-spacing:0.018px"><span>Compare</span></div>
<div class="b g" style="left:402.67px;top:1426px;letter-spacing:0.277px"><span>Copy</span></div>
<div class="b k" style="left:402.67px;top:1442px;letter-spacing:0.138px"><span>DeclFileLine</span></div>
<div class="b k" style="left:402.67px;top:1458px;letter-spacing:0.104px"><span>DeclFileName</span></div>
<div class="b k" style="left:402.67px;top:1474px;letter-spacing:0.198px"><span>Dictionary</span></div>
<div class="b y" style="left:325.33px;top:1314px;letter-spacing:0.064px"><span>fTitle</span></div>
<div class="b g" style="left:325.33px;top:1330px;letter-spacing:-0.033px"><span>FillBuffer</span></div>
<div class="b g" style="left:325.33px;top:1346px;letter-spacing:0.130px"><span>GetName</span></div>
<div class="b g" style="left:325.33px;top:1362px;letter-spacing:0.197px"><span>GetTitle</span></div>
<div class="b g" style="left:325.33px;top:1378px;letter-spacing:0.149px"><span>Hash</span></div>
<div class="b k" style="left:325.33px;top:1394px;letter-spacing:0.054px"><span>ImplFileLine</span></div>
<div class="b k" style="left:325.33px;top:1410px;letter-spacing:0.020px"><span>ImplFileName</span></div>
<div class="b k" style="left:325.33px;top:1426px;letter-spacing:-0.086px"><span>IsA</span></div>
<div class="b g" style="left:325.33px;top:1442px;letter-spacing:-0.006px"><span>IsSortable</span></div>
<div class="b g" style="left:325.33px;top:1458px;letter-spacing:0.014px"><span>Print</span></div>
<div class="b g" style="left:325.33px;top:1474px;letter-spacing:0.018px"><span>SetName</span></div>
<div class="b p" style="left:248px;top:1314px;letter-spacing:-0.073px"><span>fgIsA</span></div>
<div class="b g" style="left:248px;top:1330px;letter-spacing:0.079px"><span>SetNameTitle</span></div>
<div class="b g" style="left:248px;top:1346px;letter-spacing:0.098px"><span>SetTitle</span></div>
<div class="b k" style="left:248px;top:1362px;letter-spacing:0.024px"><span>ShowMembers</span></div>
<div class="b g" style="left:248px;top:1378px;letter-spacing:-0.010px"><span>Sizeof</span></div>
<div class="b k" style="left:248px;top:1394px;letter-spacing:-0.141px"><span>Streamer</span></div>
<div class="b k" style="left:248px;top:1410px;letter-spacing:0.030px"><span>StreamerNVirtual</span></div>
<div class="b g" style="left:248px;top:1426px;letter-spacing:0.059px"><span>TNamed</span></div>
<div class="b g" style="left:248px;top:1442px;letter-spacing:0.053px"><span>ls</span></div>
<div class="b k" style="left:248px;top:1458px;letter-spacing:0.118px"><span>operator=</span></div>
<div class="b g" style="left:248px;top:1474px;letter-spacing:0.020px"><span>~TNamed</span></div>
<svg style="left:246px;top:1574px" width="225.33" height="212"><path d="M2,2H223.33M2,210H223.33M2,2V51.2M223.33,2V35.2M223.33,179.47V210" fill="none" stroke="#d4d4d4" stroke-width="1.333" stroke-linecap="square"/></svg>
<div class="t" style="left:248px;top:1580.8px;letter-spacing:0.300px">TEveProjectable</div>
<div class="b y" style="left:402.67px;top:1610px;letter-spacing:0.033px"><span>fProjectedList</span></div>
<div class="b g" style="left:402.67px;top:1626px;letter-spacing:0.141px"><span>AddProjected</span></div>
<div class="b g" style="left:402.67px;top:1642px;letter-spacing:0.092px"><span>AddProjectedsToSet</span></div>
<div class="b g" style="left:402.67px;top:1658px;letter-spacing:0.159px"><span>AnnihilateProjecteds</span></div>
<div class="b g" style="left:402.67px;top:1674px;letter-spacing:0.107px"><span>BeginProjecteds</span></div>
<div class="b k" style="left:402.67px;top:1690px;letter-spacing:0.021px"><span>Class</span></div>
<div class="b k" style="left:402.67px;top:1706px;letter-spacing:0.060px"><span>Class_Name</span></div>
<div class="b k" style="left:402.67px;top:1722px;letter-spacing:0.094px"><span>Class_Version</span></div>
<div class="b g" style="left:402.67px;top:1738px;letter-spacing:0.057px"><span>ClearProjectedList</span></div>
<div class="b p" style="left:325.33px;top:1610px;letter-spacing:-0.073px"><span>fgIsA</span></div>
<div class="b k" style="left:325.33px;top:1626px;letter-spacing:0.138px"><span>DeclFileLine</span></div>
<div class="b k" style="left:325.33px;top:1642px;letter-spacing:0.104px"><span>DeclFileName</span></div>
<div class="b k" style="left:325.33px;top:1658px;letter-spacing:0.198px"><span>Dictionary</span></div>
<div class="b g" style="left:325.33px;top:1674px;letter-spacing:0.076px"><span>EndProjecteds</span></div>
<div class="b g" style="left:325.33px;top:1690px;letter-spacing:0.056px"><span>HasProjecteds</span></div>
<div class="b k" style="left:325.33px;top:1706px;letter-spacing:0.054px"><span>ImplFileLine</span></div>
<div class="b k" style="left:325.33px;top:1722px;letter-spacing:0.020px"><span>ImplFileName</span></div>
<div class="b k" style="left:325.33px;top:1738px;letter-spacing:-0.086px"><span>IsA</span></div>
<div class="b g" style="left:325.33px;top:1754px;letter-spacing:0.054px"><span>ProjectedClass</span></div>
<div class="b g" style="left:325.33px;top:1770px;letter-spacing:0.121px"><span>PropagateMainColor</span></div>
<div class="b g" style="left:248px;top:1626px;letter-spacing:0.080px"><span>PropagateMainTransparency</span></div>
<div class="b g" style="left:248px;top:1642px;letter-spacing:0.076px"><span>PropagateRenderState</span></div>
<div class="b g" style="left:248px;top:1658px;letter-spacing:0.010px"><span>PropagateVizParams</span></div>
<div class="b g" style="left:248px;top:1674px;letter-spacing:0.081px"><span>RemoveProjected</span></div>
<div class="b k" style="left:248px;top:1690px;letter-spacing:0.024px"><span>ShowMembers</span></div>
<div class="b k" style="left:248px;top:1706px;letter-spacing:-0.141px"><span>Streamer</span></div>
<div class="b k" style="left:248px;top:1722px;letter-spacing:0.030px"><span>StreamerNVirtual</span></div>
<div class="b g" style="left:248px;top:1738px;letter-spacing:0.077px"><span>TEveProjectable</span></div>
<div class="b k" style="left:248px;top:1754px;letter-spacing:0.118px"><span>operator=</span></div>
<div class="b g" style="left:248px;top:1770px;letter-spacing:0.059px"><span>~TEveProjectable</span></div>
<svg style="left:14px;top:1278px" width="225.33" height="596"><path d="M2,2H223.33M2,594H223.33M2,2V35.2M223.33,2V35.2M223.33,131.47V147.2M223.33,579.47V594" fill="none" stroke="#d4d4d4" stroke-width="1.333" stroke-linecap="square"/></svg>
<div class="t" style="left:16px;top:1284.8px;letter-spacing:0.316px">TObject</div>
<div class="b p" style="left:170.67px;top:1314px;letter-spacing:0.014px"><span>fBits</span></div>
<div class="b p" style="left:170.67px;top:1330px;letter-spacing:0.138px"><span>fUniqueID</span></div>
<div class="b p" style="left:170.67px;top:1346px;letter-spacing:0.179px"><span>fgDtorOnly</span></div>
<div class="b p" style="left:170.67px;top:1362px;letter-spacing:-0.073px"><span>fgIsA</span></div>
<div class="b p" style="left:170.67px;top:1378px;letter-spacing:0.134px"><span>fgObjectStat</span></div>
<div class="b g" style="left:170.67px;top:1394px;letter-spacing:0.175px"><span>kBitMask</span></div>
<div class="b g" style="left:170.67px;top:1426px;letter-spacing:0.168px"><span>AbstractMethod</span></div>
<div class="b g" style="left:170.67px;top:1442px;letter-spacing:0.199px"><span>AppendPad</span></div>
<div class="b g" style="left:170.67px;top:1458px;letter-spacing:0.044px"><span>Browse</span></div>
<div class="b k" style="left:170.67px;top:1474px;letter-spacing:0.021px"><span>Class</span></div>
<div class="b g" style="left:170.67px;top:1490px;letter-spacing:0.030px"><span>ClassName</span></div>
<div class="b k" style="left:170.67px;top:1506px;letter-spacing:0.060px"><span>Class_Name</span></div>
<div class="b k" style="left:170.67px;top:1522px;letter-spacing:0.094px"><span>Class_Version</span></div>
<div class="b g" style="left:170.67px;top:1538px;letter-spacing:0.025px"><span>Clear</span></div>
<div class="b g" style="left:170.67px;top:1554px;letter-spacing:0.230px"><span>Clone</span></div>
<div class="b g" style="left:170.67px;top:1570px;letter-spacing:0.018px"><span>Compare</span></div>
<div class="b g" style="left:170.67px;top:1586px;letter-spacing:0.277px"><span>Copy</span></div>
<div class="b k" style="left:170.67px;top:1602px;letter-spacing:0.138px"><span>DeclFileLine</span></div>
<div class="b k" style="left:170.67px;top:1618px;letter-spacing:0.104px"><span>DeclFileName</span></div>
<div class="b g" style="left:170.67px;top:1634px;letter-spacing:0.201px"><span>Delete</span></div>
<div class="b k" style="left:170.67px;top:1650px;letter-spacing:0.198px"><span>Dictionary</span></div>
<div class="b g" style="left:170.67px;top:1666px;letter-spacing:0.124px"><span>DistancetoPrimitive</span></div>
<div class="b y" style="left:170.67px;top:1682px;letter-spacing:-0.061px"><span>DoError</span></div>
<div class="b g" style="left:170.67px;top:1698px;letter-spacing:0.096px"><span>Draw</span></div>
<div class="b g" style="left:170.67px;top:1714px;letter-spacing:0.055px"><span>DrawClass</span></div>
<div class="b g" style="left:170.67px;top:1730px;letter-spacing:0.171px"><span>DrawClone</span></div>
<div class="b g" style="left:170.67px;top:1746px;letter-spacing:0.167px"><span>Dump</span></div>
<div class="b g" style="left:170.67px;top:1762px;letter-spacing:-0.226px"><span>Error</span></div>
<div class="b g" style="left:170.67px;top:1778px;letter-spacing:0.152px"><span>Execute</span></div>
<div class="b g" style="left:170.67px;top:1794px;letter-spacing:0.164px"><span>ExecuteEvent</span></div>
<div class="b g" style="left:170.67px;top:1810px;letter-spacing:0.068px"><span>Fatal</span></div>
<div class="b g" style="left:170.67px;top:1826px;letter-spacing:0.201px"><span>FindObject</span></div>
<div class="b g" style="left:170.67px;top:1842px;letter-spacing:0.238px"><span>GetDrawOption</span></div>
<div class="b g" style="left:93.33px;top:1314px;letter-spacing:0.206px"><span>kCanDelete</span></div>
<div class="b g" style="left:93.33px;top:1330px;letter-spacing:0.192px"><span>kCannotPick</span></div>
<div class="b g" style="left:93.33px;top:1346px;letter-spacing:0.159px"><span>kHasUUID</span></div>
<div class="b g" style="left:93.33px;top:1362px;letter-spacing:0.216px"><span>kInvalidObject</span></div>
<div class="b g" style="left:93.33px;top:1378px;letter-spacing:0.142px"><span>kIsOnHeap</span></div>
<div class="b g" style="left:93.33px;top:1394px;letter-spacing:0.001px"><span>kIsReferenced</span></div>
<div class="b g" style="left:93.33px;top:1410px;letter-spacing:0.207px"><span>kMustCleanup</span></div>
<div class="b g" style="left:93.33px;top:1426px;letter-spacing:0.240px"><span>GetDtorOnly</span></div>
<div class="b g" style="left:93.33px;top:1442px;letter-spacing:0.111px"><span>GetIconName</span></div>
<div class="b g" style="left:93.33px;top:1458px;letter-spacing:0.130px"><span>GetName</span></div>
<div class="b g" style="left:93.33px;top:1474px;letter-spacing:0.153px"><span>GetObjectInfo</span></div>
<div class="b g" style="left:93.33px;top:1490px;letter-spacing:0.190px"><span>GetObjectStat</span></div>
<div class="b g" style="left:93.33px;top:1506px;letter-spacing:0.301px"><span>GetOption</span></div>
<div class="b g" style="left:93.33px;top:1522px;letter-spacing:0.197px"><span>GetTitle</span></div>
<div class="b g" style="left:93.33px;top:1538px;letter-spacing:0.221px"><span>GetUniqueID</span></div>
<div class="b g" style="left:93.33px;top:1554px;letter-spacing:0.084px"><span>HandleTimer</span></div>
<div class="b g" style="left:93.33px;top:1570px;letter-spacing:0.149px"><span>Hash</span></div>
<div class="b k" style="left:93.33px;top:1586px;letter-spacing:0.054px"><span>ImplFileLine</span></div>
<div class="b k" style="left:93.33px;top:1602px;letter-spacing:0.020px"><span>ImplFileName</span></div>
<div class="b g" style="left:93.33px;top:1618px;letter-spacing:-0.053px"><span>Info</span></div>
<div class="b g" style="left:93.33px;top:1634px;letter-spacing:-0.052px"><span>InheritsFrom</span></div>
<div class="b g" style="left:93.33px;top:1650px;letter-spacing:0.071px"><span>Inspect</span></div>
<div class="b g" style="left:93.33px;top:1666px;letter-spacing:0.096px"><span>InvertBit</span></div>
<div class="b k" style="left:93.33px;top:1682px;letter-spacing:-0.086px"><span>IsA</span></div>
<div class="b g" style="left:93.33px;top:1698px;letter-spacing:0.039px"><span>IsEqual</span></div>
<div class="b g" style="left:93.33px;top:1714px;letter-spacing:-0.055px"><span>IsFolder</span></div>
<div class="b g" style="left:93.33px;top:1730px;letter-spacing:0.118px"><span>IsOnHeap</span></div>
<div class="b g" style="left:93.33px;top:1746px;letter-spacing:-0.006px"><span>IsSortable</span></div>
<div class="b g" style="left:93.33px;top:1762px;letter-spacing:-0.013px"><span>IsZombie</span></div>
<div class="b y" style="left:93.33px;top:1778px;letter-spacing:0.117px"><span>MakeZombie</span></div>
<div class="b g" style="left:93.33px;top:1794px;letter-spacing:0.203px"><span>MayNotUse</span></div>
<div class="b g" style="left:93.33px;top:1810px;letter-spacing:0.198px"><span>Notify</span></div>
<div class="b g" style="left:93.33px;top:1826px;letter-spacing:0.201px"><span>Obsolete</span></div>
<div class="b g" style="left:93.33px;top:1842px;letter-spacing:0.118px"><span>Paint</span></div>
<div class="b g" style="left:93.33px;top:1858px;letter-spacing:0.084px"><span>Pop</span></div>
<div class="b g" style="left:16px;top:1314px;letter-spacing:0.265px"><span>kNoContextMenu</span></div>
<div class="b g" style="left:16px;top:1330px;letter-spacing:0.261px"><span>kNotDeleted</span></div>
<div class="b g" style="left:16px;top:1346px;letter-spacing:0.165px"><span>kObjInCanvas</span></div>
<div class="b g" style="left:16px;top:1362px;letter-spacing:0.128px"><span>kOverwrite</span></div>
<div class="b g" style="left:16px;top:1378px;letter-spacing:0.204px"><span>kSingleKey</span></div>
<div class="b g" style="left:16px;top:1394px;letter-spacing:0.183px"><span>kWriteDelete</span></div>
<div class="b g" style="left:16px;top:1410px;letter-spacing:0.123px"><span>kZombie</span></div>
<div class="b g" style="left:16px;top:1426px;letter-spacing:0.014px"><span>Print</span></div>
<div class="b g" style="left:16px;top:1442px;letter-spacing:0.151px"><span>Read</span></div>
<div class="b g" style="left:16px;top:1458px;letter-spacing:0.084px"><span>RecursiveRemove</span></div>
<div class="b g" style="left:16px;top:1474px;letter-spacing:0.134px"><span>ResetBit</span></div>
<div class="b g" style="left:16px;top:1490px;letter-spacing:0.044px"><span>SaveAs</span></div>
<div class="b g" style="left:16px;top:1506px;letter-spacing:0.035px"><span>SavePrimitive</span></div>
<div class="b g" style="left:16px;top:1522px;letter-spacing:0.110px"><span>SetBit</span></div>
<div class="b g" style="left:16px;top:1538px;letter-spacing:0.178px"><span>SetDrawOption</span></div>
<div class="b g" style="left:16px;top:1554px;letter-spacing:0.169px"><span>SetDtorOnly</span></div>
<div class="b g" style="left:16px;top:1570px;letter-spacing:0.129px"><span>SetObjectStat</span></div>
<div class="b g" style="left:16px;top:1586px;letter-spacing:0.149px"><span>SetUniqueID</span></div>
<div class="b k" style="left:16px;top:1602px;letter-spacing:0.024px"><span>ShowMembers</span></div>
<div class="b k" style="left:16px;top:1618px;letter-spacing:-0.141px"><span>Streamer</span></div>
<div class="b k" style="left:16px;top:1634px;letter-spacing:0.030px"><span>StreamerNVirtual</span></div>
<div class="b g" style="left:16px;top:1650px;letter-spacing:-0.175px"><span>SysError</span></div>
<div class="b g" style="left:16px;top:1666px;letter-spacing:0.188px"><span>TObject</span></div>
<div class="b g" style="left:16px;top:1682px;letter-spacing:0.106px"><span>TestBit</span></div>
<div class="b g" style="left:16px;top:1698px;letter-spacing:0.069px"><span>TestBits</span></div>
<div class="b g" style="left:16px;top:1714px;letter-spacing:0.075px"><span>UseCurrentStyle</span></div>
<div class="b g" style="left:16px;top:1730px;letter-spacing:0.193px"><span>Warning</span></div>
<div class="b g" style="left:16px;top:1746px;letter-spacing:0.130px"><span>Write</span></div>
<div class="b g" style="left:16px;top:1762px;letter-spacing:0.053px"><span>ls</span></div>
<div class="b g" style="left:16px;top:1778px;letter-spacing:0.094px"><span>operator delete</span></div>
<div class="b g" style="left:16px;top:1794px;letter-spacing:0.032px"><span>operator delete[]</span></div>
<div class="b g" style="left:16px;top:1810px;letter-spacing:0.086px"><span>operator new</span></div>
<div class="b g" style="left:16px;top:1826px;letter-spacing:0.011px"><span>operator new[]</span></div>
<div class="b k" style="left:16px;top:1842px;letter-spacing:0.118px"><span>operator=</span></div>
<div class="b g" style="left:16px;top:1858px;letter-spacing:0.138px"><span>~TObject</span></div>
<svg style="left:0;top:0" width="1181" height="1888" viewBox="0 0 1181 1888"><g fill="none" stroke="#000" stroke-width="1.333"><path d="M943.8,64.6C943.03,70.38 940.3,86.45 939.2,99.3C938.1,112.15 937.7,128.25 937.2,141.7C936.7,155.15 936.67,158.78 936.2,180C935.73,201.22 934.95,239.33 934.4,269C933.85,298.67 933.82,328.33 932.9,358C931.98,387.67 930.65,406.67 928.9,447C927.15,487.33 925.07,540.67 922.4,600C919.73,659.33 916.03,735.83 912.9,803C909.77,870.17 905.15,969.67 903.6,1003"/><path d="M711.8,53.8C710.93,58.5 707.83,73.7 706.6,82C705.37,90.3 704.98,92.93 704.4,103.6C703.82,114.27 703.72,131.85 703.1,146C702.48,160.15 701.55,173.67 700.7,188.5C699.85,203.33 699.62,212.18 698,235C696.38,257.82 693.12,299.73 691,325.4C688.88,351.07 687.63,365.15 685.3,389C682.97,412.85 678.95,449.5 677,468.5C675.05,487.5 674.17,497.25 673.6,503"/><path d="M711.8,53.8C711.17,58.5 708.88,73.7 708,82C707.12,90.3 706.98,92.93 706.5,103.6C706.02,114.27 705.48,131.85 705.1,146C704.72,160.15 704.43,172.83 704.2,188.5C703.97,204.17 703.95,208.08 703.7,240C703.45,271.92 703.02,331.67 702.7,380C702.38,428.33 701.98,472.5 701.8,530C701.62,587.5 703.45,655 701.6,725C699.75,795 694.35,874.88 690.7,950C687.05,1025.12 682.77,1112.87 679.7,1175.7C676.63,1238.53 673.53,1301.78 672.3,1327"/><path d="M479.9,54.5C479.18,59.92 476.63,77.15 475.6,87C474.57,96.85 474.22,103.1 473.7,113.6C473.18,124.1 473,128.97 472.5,150C472,171.03 471.05,199.97 470.7,239.8C470.35,279.63 470.45,295.63 470.4,389C470.35,482.37 470.37,681.5 470.4,800C470.43,918.5 470.4,1028.33 470.6,1100C470.8,1171.67 471.47,1204.17 471.6,1230C471.73,1255.83 471.83,1248.5 471.4,1255C470.97,1261.5 469.4,1266.67 469,1269"/><path d="M479.9,54.5C479.38,59.92 477.52,77.15 476.8,87C476.08,96.85 475.85,103.1 475.6,113.6C475.35,124.1 475.57,128.97 475.3,150C475.03,171.03 474.47,199.97 474,239.8C473.53,279.63 472.9,353.63 472.5,389C472.1,424.37 471.8,428.5 471.6,452C471.4,475.5 471.42,455.33 471.3,530C471.18,604.67 471.07,771.67 470.9,900C470.73,1028.33 470.42,1206.67 470.3,1300C470.18,1393.33 470.27,1428.88 470.2,1460C470.13,1491.12 470.18,1479.6 469.9,1486.7C469.62,1493.8 469.27,1497.3 468.5,1502.6C467.73,1507.9 466.63,1513.2 465.3,1518.5C463.97,1523.8 462.17,1529.1 460.5,1534.4C458.83,1539.7 456.63,1545.78 455.3,1550.3C453.97,1554.82 452.97,1559.63 452.5,1561.5"/></g><g fill="#000" stroke="#000" stroke-width="0.6"><polygon points="932.33,47.9 946.83,42.8 946.83,53"/><polygon points="700.33,47.9 714.83,42.8 714.83,53"/><polygon points="468.33,47.9 482.83,42.8 482.83,53"/><polygon points="236.33,1311.9 250.83,1306.8 250.83,1317"/><polygon points="902.9,1016.8 898.61,1002.75 908.59,1003.25"/><polygon points="672.3,516.8 668.62,502.53 678.58,503.47"/><polygon points="671.6,1340.6 667.31,1326.74 677.29,1327.26"/><polygon points="462.5,1280.5 464.86,1266.32 473.54,1271.28"/><polygon points="448.6,1574.6 447.71,1560.07 457.29,1562.93"/></g></svg>
</div></body></html>
